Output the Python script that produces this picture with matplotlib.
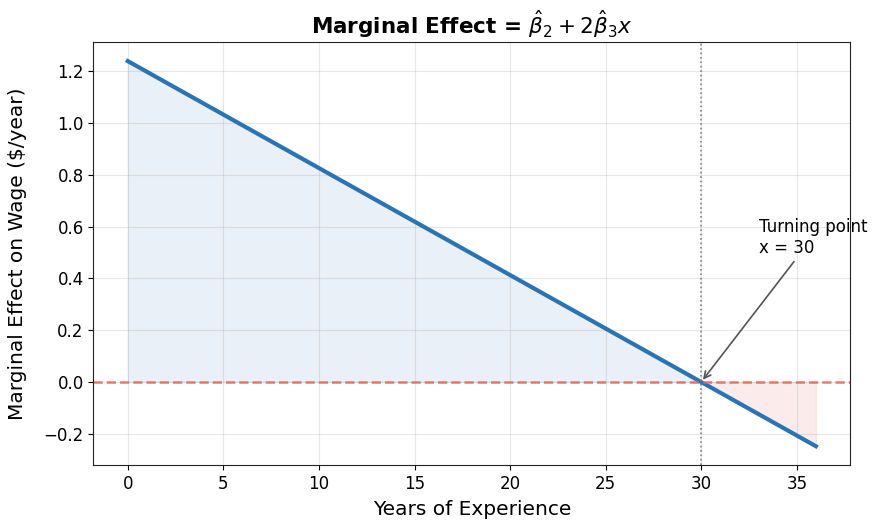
import matplotlib.pyplot as plt
import numpy as np

# Estimated coefficients
beta2 = 1.24
beta3 = -0.02067
exper_min = 0
exper_max = 36
turning_point = 30

x = np.linspace(exper_min, exper_max, 200)
me = beta2 + 2 * beta3 * x

fig, ax = plt.subplots(figsize=(8.73, 5.23), dpi=100)
fig.subplots_adjust(left=0.107, right=0.974, top=0.92, bottom=0.11)

ax.plot(x, me, color='#2b74b3', linewidth=3)
ax.fill_between(x, me, 0, where=me >= 0, color='#2b74b3', alpha=0.1, interpolate=True)
ax.fill_between(x, me, 0, where=me < 0, color='#e06060', alpha=0.12, interpolate=True)
ax.axhline(0, color='#d9695a', linestyle='--', linewidth=1.8, alpha=0.85)
ax.axvline(turning_point, color='gray', linestyle=':', linewidth=1.2)

ax.annotate('Turning point\nx = 30', xy=(turning_point, 0), xytext=(33, 0.5),
            fontsize=12, arrowprops=dict(arrowstyle='->', color='#555555', lw=1.2))

ax.set_xlabel('Years of Experience', fontsize=14.5, labelpad=5)
ax.set_ylabel('Marginal Effect on Wage ($/year)', fontsize=14.5, labelpad=12)
ax.set_title(r'Marginal Effect = $\hat{\beta}_2 + 2\hat{\beta}_3 x$', fontsize=15.5, fontweight='bold')
ax.tick_params(labelsize=12)
ax.grid(True, alpha=0.3)
for s in ax.spines.values():
    s.set_color('#222222')

plt.savefig('out.png', dpi=100)
